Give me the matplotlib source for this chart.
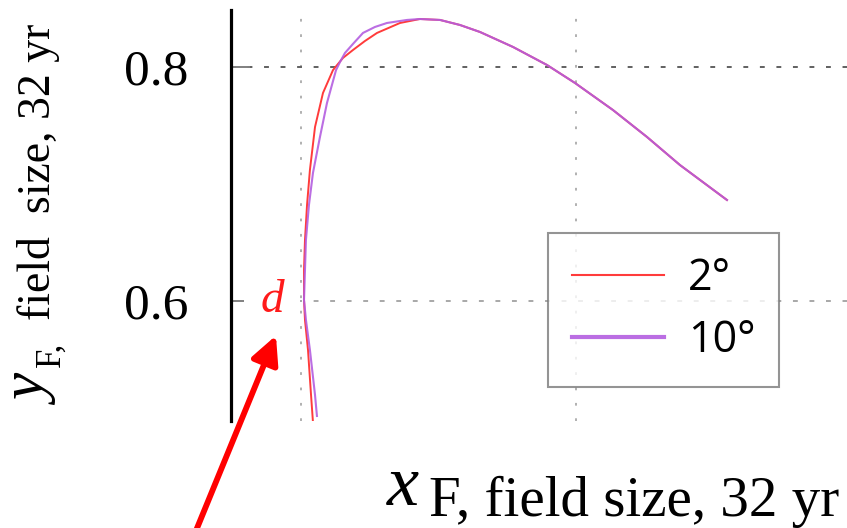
import matplotlib
matplotlib.use("Agg")
import matplotlib.pyplot as plt
from matplotlib.patches import FancyArrowPatch

# Spectrum-locus chromaticity coordinates (xF, yF), field size 32 yr
x_2deg = [0.0087, 0.0073, 0.0051, 0.0029, 0.0022, 0.0022, 0.0029, 0.0044, 0.0065,
          0.0102, 0.0160, 0.0233, 0.0305, 0.0378, 0.0465, 0.0553, 0.0720, 0.0865,
          0.1011, 0.1156, 0.1302, 0.1542, 0.1789, 0.1993, 0.2269, 0.2516, 0.2756, 0.3098]
y_2deg = [0.4966, 0.5197, 0.5581, 0.5838, 0.6009, 0.6265, 0.6521, 0.6821, 0.7120,
          0.7487, 0.7778, 0.7974, 0.8077, 0.8145, 0.8222, 0.8291, 0.8376, 0.8410,
          0.8402, 0.8359, 0.8299, 0.8171, 0.8017, 0.7863, 0.7632, 0.7402, 0.7162, 0.6863]

x_10deg = [0.0116, 0.0102, 0.0065, 0.0036, 0.0022, 0.0029, 0.0036, 0.0058, 0.0087,
           0.0138, 0.0189, 0.0255, 0.0284, 0.0320, 0.0378, 0.0451, 0.0538, 0.0625,
           0.0771, 0.0865, 0.1011, 0.1156, 0.1302, 0.1542, 0.1789, 0.1993, 0.2269,
           0.2516, 0.2756, 0.3098]
y_10deg = [0.5017, 0.5197, 0.5581, 0.5838, 0.6009, 0.6265, 0.6521, 0.6821, 0.7094,
           0.7402, 0.7692, 0.7974, 0.8043, 0.8120, 0.8197, 0.8291, 0.8342, 0.8376,
           0.8402, 0.8410, 0.8402, 0.8359, 0.8299, 0.8171, 0.8017, 0.7863, 0.7632,
           0.7402, 0.7162, 0.6863]

series_labels = ["2°", "10°"]
y_ticks = [0.6, 0.8]
y_tick_labels = ["0.6", "0.8"]
x_ticks = [0.0, 0.2]

SERIF = "Liberation Serif"
W, H = 847, 528

fig = plt.figure(figsize=(W / 100, H / 100), dpi=100)
fig.patch.set_facecolor("white")


def fx(px):
    return px / W


def fy(py):
    return 1 - py / H


ax = fig.add_axes([fx(231), fy(421), (847 - 231) / W, (421 - 10) / H])
ax.set_xlim(-0.0509, 0.3971)
ax.set_ylim(0.4974, 0.8487)

ax.plot(x_2deg, y_2deg, color="#ff3b3b", lw=1.4, solid_joinstyle="round",
        label=series_labels[0], zorder=3)
ax.plot(x_10deg, y_10deg, color="#b45ee0", lw=1.5, alpha=0.9, solid_joinstyle="round",
        label=series_labels[1], zorder=4)

# spines
for side in ["top", "right", "bottom"]:
    ax.spines[side].set_visible(False)
ax.spines["left"].set_linewidth(2.3)
ax.spines["left"].set_color("black")

# ticks
ax.set_yticks(y_ticks)
ax.set_yticklabels(y_tick_labels, fontfamily=SERIF, fontsize=37)
ax.tick_params(axis="y", direction="in", length=14, width=1.4, color="#808080", pad=31)
ax.set_xticks(x_ticks)
ax.set_xticklabels([])
ax.tick_params(axis="x", length=0)

# grid lines
ax.grid(True, axis="y", linestyle=(0, (2.5, 6)), linewidth=1.4)
ax.grid(True, axis="x", linestyle=(0, (1.4, 6.5)), linewidth=1.4, color="#b0b0b0")
for line, col in zip(ax.get_ygridlines(), ["#a8a8a8", "#606060"]):
    line.set_color(col)

# legend
leg = ax.legend(loc="upper left", bbox_to_anchor=(fx(548), fy(233)),
                bbox_transform=fig.transFigure, borderaxespad=0,
                prop={"family": "Open Sans", "size": 31}, fancybox=False,
                frameon=True, edgecolor="#7a7a7a", handlelength=2.15,
                handletextpad=0.55, labelspacing=0.4, borderpad=0.55)
leg.get_frame().set_linewidth(1.5)
leg.get_lines()[0].set_linewidth(1.5)
leg.get_lines()[1].set_linewidth(3.0)

# point label and arrow
ax.text(-0.021, 0.6, "d", color="#ff1a1a", fontfamily=SERIF, style="italic",
        fontsize=34, ha="center", va="center", zorder=2,
        bbox=dict(boxstyle="square,pad=0.35", facecolor="white", edgecolor="none"))
fig.add_artist(FancyArrowPatch(
    (193, -10), (277, H - 333), transform=None, arrowstyle="-|>",
    mutation_scale=42, color="#ff0000", lw=4.2))

# x axis label
fig.text(fx(387), fy(505), "x", fontfamily=SERIF, style="italic", fontsize=52,
         ha="left", va="baseline")
fig.text(fx(429), fy(516), "F, field size, 32 yr", fontfamily=SERIF, fontsize=41,
         ha="left", va="baseline")

# y axis label (rotated pieces)
fig.text(fx(48), fy(405), "y", fontfamily=SERIF, style="italic", fontsize=44,
         rotation=90, rotation_mode="anchor", ha="left", va="baseline")
fig.text(fx(60), fy(367), "F,", fontfamily=SERIF, fontsize=25,
         rotation=90, rotation_mode="anchor", ha="left", va="baseline")
fig.text(fx(50), fy(320), "field  size, 32 yr", fontfamily=SERIF, fontsize=33,
         rotation=90, rotation_mode="anchor", ha="left", va="baseline")

fig.savefig("out.png", dpi=100, facecolor="white")
